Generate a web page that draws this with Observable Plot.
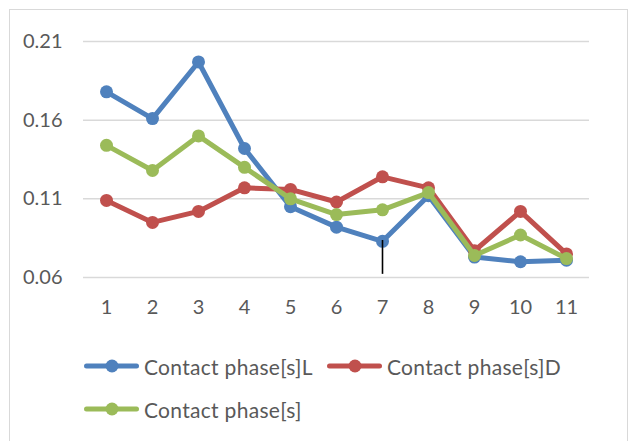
<!DOCTYPE html>
<html>
<head>
<meta charset="utf-8">
<script src="https://cdn.jsdelivr.net/npm/d3@7"></script>
<script src="https://cdn.jsdelivr.net/npm/@observablehq/plot@0.6"></script>
<style>
  html, body { margin: 0; padding: 0; background: #fff; }
  body { width: 630px; height: 441px; position: relative; overflow: hidden; font-family: Lato, sans-serif; }
  #frame { position: absolute; left: 9px; top: 9px; width: 619px; height: 460px; border: 1.5px solid #d9d9d9; box-sizing: border-box; }
  #chart { position: absolute; left: 0; top: 0; }
  .leg { position: absolute; display: flex; align-items: center; font-size: 21px; letter-spacing: 0.3px; color: #595959; white-space: nowrap; }
  .leg svg { display: block; margin-right: 5px; }
</style>
</head>
<body>
<div id="frame"></div>
<div id="chart"></div>
<div id="legend"></div>
<script>
const categories = [1, 2, 3, 4, 5, 6, 7, 8, 9, 10, 11];
const seriesNames = ["Contact phase[s]L", "Contact phase[s]D", "Contact phase[s]"];
const seriesColors = ["#4F81BD", "#C0504D", "#9BBB59"];
const contactL = [0.178, 0.161, 0.197, 0.142, 0.105, 0.092, 0.083, 0.112, 0.073, 0.070, 0.071];
const contactD = [0.109, 0.095, 0.102, 0.117, 0.116, 0.108, 0.124, 0.117, 0.077, 0.102, 0.075];
const contact = [0.144, 0.128, 0.150, 0.130, 0.110, 0.100, 0.103, 0.114, 0.074, 0.087, 0.072];
const yTicks = [0.06, 0.11, 0.16, 0.21];
const markerX = [7];
const markerLow = [0.062];
const markerHigh = [0.0835];

const seriesValues = [contactL, contactD, contact];
const rows = [];
seriesValues.forEach((vals, si) => {
  vals.forEach((v, i) => rows.push({series: seriesNames[si], x: categories[i], y: v}));
});
const colorScale = {domain: seriesNames, range: seriesColors};

const marks = [
  Plot.gridY(yTicks, {stroke: "#d9d9d9", strokeOpacity: 1, strokeWidth: 1.5}),
  Plot.axisY(yTicks, {tickSize: 0, tickPadding: 21, tickFormat: d => d.toFixed(2), fill: "#595959", fontSize: 20}),
  Plot.axisX(categories, {tickSize: 0, tickPadding: 22, fill: "#595959", fontSize: 20}),
];
seriesNames.forEach(name => {
  const d = rows.filter(r => r.series === name);
  marks.push(Plot.line(d, {x: "x", y: "y", stroke: "series", strokeWidth: 5, strokeLinejoin: "round"}));
  marks.push(Plot.dot(d, {x: "x", y: "y", fill: "series", r: 6.5}));
});
marks.push(Plot.ruleX(markerX.map((x, i) => ({x, y1: markerLow[i], y2: markerHigh[i]})), {x: "x", y1: "y1", y2: "y2", stroke: "black", strokeWidth: 1.6}));

const plot = Plot.plot({
  width: 630,
  height: 330,
  marginLeft: 83,
  marginRight: 41,
  marginTop: 41,
  marginBottom: 53,
  style: {fontFamily: "Lato, sans-serif", fontSize: "20px", color: "#595959", background: "transparent"},
  x: {domain: [0.5, 11.5], label: null},
  y: {domain: [0.06, 0.21], label: null},
  color: colorScale,
  marks
});
document.getElementById("chart").appendChild(plot);

// Legend
const legendPos = [
  {left: 84, top: 366},
  {left: 327, top: 366},
  {left: 84, top: 409}
];
const legend = document.getElementById("legend");
seriesNames.forEach((name, i) => {
  const div = document.createElement("div");
  div.className = "leg";
  div.style.left = legendPos[i].left + "px";
  div.style.top = (legendPos[i].top - 14) + "px";
  div.style.height = "28px";
  div.innerHTML = `<svg width="55" height="16"><line x1="2.5" y1="8" x2="52.5" y2="8" stroke="${seriesColors[i]}" stroke-width="5" stroke-linecap="round"/><circle cx="28" cy="8" r="6.5" fill="${seriesColors[i]}"/></svg><span>${name}</span>`;
  legend.appendChild(div);
});
</script>
</body>
</html>
